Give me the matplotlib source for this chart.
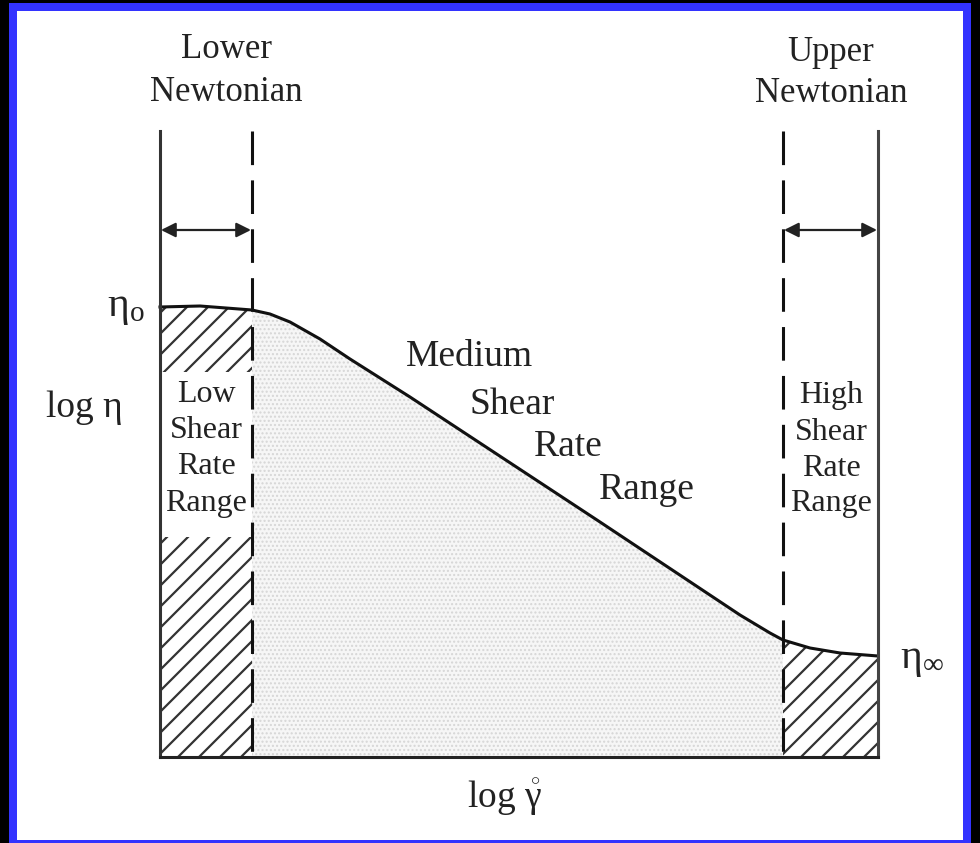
import matplotlib
matplotlib.use("Agg")
import matplotlib.pyplot as plt
from matplotlib.patches import Rectangle, Polygon
import numpy as np

plt.rcParams['font.family'] = ['Liberation Serif', 'DejaVu Serif']
plt.rcParams['mathtext.fontset'] = 'custom'
plt.rcParams['mathtext.rm'] = 'Liberation Serif'
plt.rcParams['mathtext.it'] = 'Liberation Serif:italic'
plt.rcParams['hatch.linewidth'] = 1.0

# flow curve (log shear rate -> log viscosity, drawing units)
curve_x = [160, 200, 252, 270, 290, 320, 350, 410, 600, 740, 770, 783, 810, 840, 878]
curve_y = [307, 306, 310, 314, 322, 339, 359, 397, 522, 615, 633, 640, 648, 653, 656]

# region borders
x_left, x_low, x_high, x_right = 160, 252, 783, 878
y_base, y_top = 757, 131

low_labels = ["Low", "Shear", "Rate", "Range"]
high_labels = ["High", "Shear", "Rate", "Range"]
mid_labels = ["Medium", "Shear", "Rate", "Range"]
mid_pos = [(469, 357), (512, 405), (568, 447), (647, 490)]

INK = '#222222'

fig = plt.figure(figsize=(9.8, 8.43), dpi=100, facecolor='black')
ax = fig.add_axes([0, 0, 1, 1])
ax.set_xlim(0, 980)
ax.set_ylim(843, 0)
ax.axis('off')

# slide frame
ax.add_patch(Rectangle((9, 3), 962, 850, facecolor='#3333ff', edgecolor='none', zorder=0))
ax.add_patch(Rectangle((17, 11), 946, 829, facecolor='white', edgecolor='none', zorder=0))

cx = np.array(curve_x)
cy = np.array(curve_y)


def region(x0, x1):
    m = (cx >= x0) & (cx <= x1)
    xs, ys = cx[m], cy[m]
    pts = list(zip(xs, ys)) + [(x1, y_base), (x0, y_base)]
    return Polygon(pts, closed=True, facecolor='none', edgecolor='none')


def diag_hatch(x0, x1, spacing=21, color='#333333', lw=1.6):
    clip = region(x0, x1)
    ax.add_patch(clip)
    h = y_base - 250
    for s in np.arange(x0 - h, x1 + spacing, spacing):
        ln, = ax.plot([s, s + h], [y_base, y_base - h], color=color, lw=lw, zorder=1)
        ln.set_clip_path(clip)


# low shear region (hatched, with a gap for the label)
diag_hatch(x_left, x_low)
ax.add_patch(Rectangle((x_left, 372), x_low - x_left, 165, facecolor='white',
                       edgecolor='none', zorder=1.5))

# medium shear region (light stipple)
ax.add_patch(Polygon(region(x_low, x_high).get_xy(), closed=True, facecolor='#f6f6f6',
                     edgecolor='#d6d6d6', hatch='....', linewidth=0, zorder=1))

# high shear region (hatched)
diag_hatch(x_high, x_right)

# curve
ax.plot(cx, cy, color='#111111', lw=2.2, zorder=3)

# frame lines
ax.plot([x_left, x_left], [y_top, y_base], color='#333333', lw=2.2, zorder=3)
ax.plot([x_right, x_right], [y_top, y_base], color='#444444', lw=2.2, zorder=3)
ax.plot([x_left, x_right], [y_base, y_base], color=INK, lw=2.2, zorder=3)
for xv in (x_low, x_high):
    ax.plot([xv, xv], [y_top, y_base], color='#111111', lw=2.2,
            dashes=(11, 5), zorder=3)

# arrows
for a, b in ((x_left, x_low), (x_high, x_right)):
    ax.annotate('', xy=(a + 1, 230), xytext=(b - 1, 230),
                arrowprops=dict(arrowstyle='<|-|>', color=INK, lw=1.6,
                                mutation_scale=22, shrinkA=0, shrinkB=0),
                zorder=4)

# headings
ax.text(226, 71, "Lower\nNewtonian", ha='center', va='center', fontsize=25,
        color=INK, linespacing=1.4)
ax.text(831, 73, "Upper\nNewtonian", ha='center', va='center', fontsize=25,
        color=INK, linespacing=1.35)

# region labels
for i, t in enumerate(low_labels):
    ax.text(206, 394 + 36.5 * i, t, ha='center', va='center', fontsize=23,
            color=INK, zorder=5)
for i, t in enumerate(high_labels):
    ax.text(831, 396 + 36 * i, t, ha='center', va='center', fontsize=23,
            color=INK, zorder=5)
for (px, py), t in zip(mid_pos, mid_labels):
    ax.text(px, py, t, ha='center', va='center', fontsize=27,
            color=INK, zorder=5)

# axis labels
ax.text(126, 308, r'$\mathrm{\eta}_{\mathrm{o}}$', ha='center', va='center',
        fontsize=30, color=INK)
ax.text(84, 408, "log η", ha='center', va='center', fontsize=27, color=INK)
ax.text(922, 660, r'$\mathrm{\eta}_{\infty}$', ha='center', va='center',
        fontsize=30, color=INK)
ax.text(505, 797, r'log $\mathring{\mathrm{\gamma}}$', ha='center', va='center',
        fontsize=27, color=INK)

fig.savefig('out.png', dpi=100, facecolor='black')
